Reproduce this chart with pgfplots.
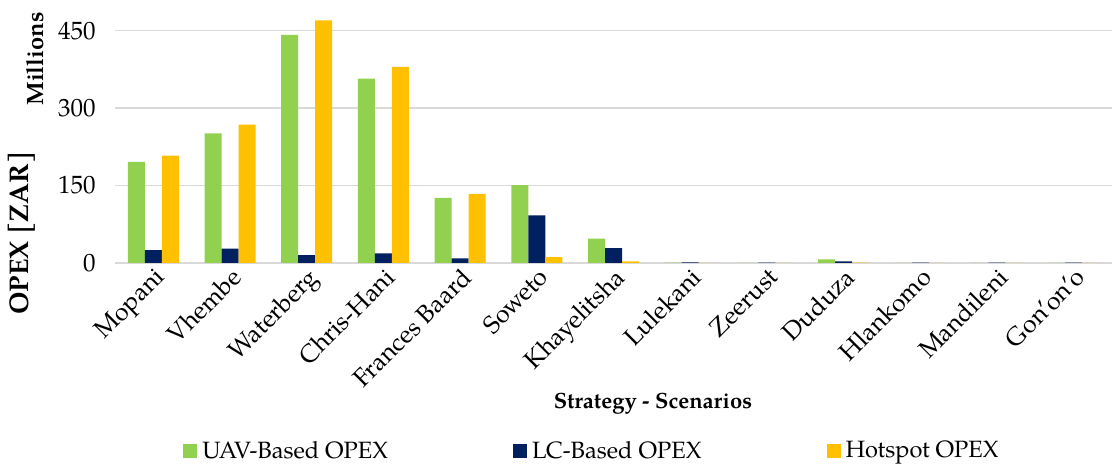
\documentclass[border=0pt]{standalone}
\usepackage{pgfplots}
\pgfplotsset{compat=1.18}
\usepackage{fontspec}
\setmainfont{TeX Gyre Pagella}
\definecolor{cgreen}{RGB}{146,208,80}
\definecolor{cnavy}{RGB}{0,32,96}
\definecolor{cyellow}{RGB}{255,192,0}
\definecolor{cgrid}{RGB}{217,217,217}
\begin{document}
\begin{tikzpicture}[font=\fontsize{11}{13}\selectfont]
\useasboundingbox (0,0) rectangle (557.5pt,232pt);
\begin{axis}[
  scale only axis,
  width=498.5pt, height=126.5pt,
  at={(57.5pt,100.5pt)}, anchor=south west,
  ybar=0pt, bar width=8.5pt,
  xmin=-0.5, xmax=12.5,
  ymin=0, ymax=490,
  ytick={0,150,300,450},
  xtick={0,...,12},
  xticklabels={Mopani,Vhembe,Waterberg,Chris-Hani,Frances Baard,Soweto,Khayelitsha,Lulekani,Zeerust,Duduza,Hlankomo,Mandileni,Gon’on’o},
  xticklabel style={rotate=45, anchor=north east, inner sep=1pt, font=\fontsize{12.5}{14}\selectfont},
  yticklabel style={inner sep=2pt, xshift=-7.5pt, font=\fontsize{12.5}{14}\selectfont},
  /pgf/number format/assume math mode=true,
  axis line style={draw=none},
  axis x line*=bottom,
  major tick length=0pt,
  ymajorgrids, grid style={cgrid, line width=0.8pt},
  legend columns=3,
  legend style={at={(0.48,-0.743)}, anchor=center, draw=none, fill=none,
    font=\fontsize{11.8}{14}\selectfont,
    nodes={inner xsep=2.5pt},
    /tikz/every even column/.append style={column sep=60pt}},
  legend image code/.code={\fill[#1] (0pt,-3.5pt) rectangle (7pt,3.5pt);},
]
\addplot[fill=cgreen, draw=none] coordinates {(0,196) (1,251) (2,442) (3,357) (4,126) (5,151) (6,47) (7,0.6) (8,0.4) (9,7) (10,0.4) (11,0.4) (12,0.4)};
\addplot[fill=cnavy, draw=none] coordinates {(0,25) (1,28) (2,15) (3,18.5) (4,9) (5,92) (6,29) (7,1) (8,0.8) (9,3) (10,0.8) (11,0.8) (12,0.8)};
\addplot[fill=cyellow, draw=none] coordinates {(0,208) (1,268) (2,470) (3,380) (4,134) (5,11.5) (6,3) (7,0.3) (8,0.3) (9,0.5) (10,0.2) (11,0.2) (12,0.2)};
\legend{UAV-Based OPEX, LC-Based OPEX, Hotspot OPEX}
\end{axis}
\node[rotate=90, font=\fontsize{11.8}{13}\selectfont\bfseries] at (17.5pt,202.5pt) {Millions};
\node[rotate=90, font=\fontsize{13.5}{15}\selectfont\bfseries] at (11pt,115.5pt) {OPEX [ZAR]};
\node[font=\fontsize{11}{13}\selectfont\bfseries] at (326.5pt,30pt) {Strategy - Scenarios};
\end{tikzpicture}
\end{document}
